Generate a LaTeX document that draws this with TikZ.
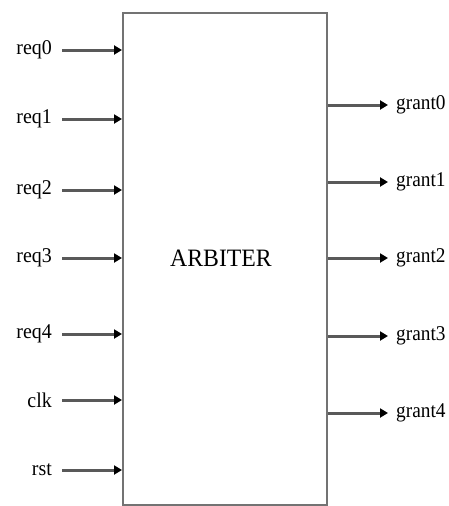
\documentclass[tikz,border=0pt]{standalone}
\usepackage{fontspec}
\setmainfont{Liberation Serif}
\usetikzlibrary{arrows.meta}
\begin{document}
\begin{tikzpicture}[x=1pt,y=-1pt,
  wire/.style={line width=3pt, draw=black!65, -{Triangle[length=8pt,width=9pt,color=black]}},
  inlabel/.style={anchor=east, inner sep=0pt, font=\fontsize{21}{21}\selectfont, xscale=0.95},
  outlabel/.style={anchor=west, inner sep=0pt, font=\fontsize{21}{21}\selectfont, xscale=0.92},
  block/.style={draw=black!55, line width=2.2pt, fill=white}]
  \useasboundingbox (0,0) rectangle (448,506);
  % arbiter block
  \node[block, minimum width=204pt, minimum height=492pt, anchor=north west] (arb) at (122,12) {};
  \node[font=\fontsize{25}{25}\selectfont, xscale=0.95] (title) at (221,258) {ARBITER};
  % inputs
  \foreach \name/\txt/\yy in {r0/req0/50, r1/req1/119, r2/req2/190, r3/req3/258, r4/req4/334, ck/clk/400, rs/rst/470}{
    \node[inlabel] (\name) at (52,\yy) {\txt};
    \coordinate (\name s) at (62,\yy);
    \coordinate (\name e) at (arb.west |- \name s);
    \draw[wire] (\name s) -- (\name e);
  }
  % outputs
  \foreach \name/\txt/\yy in {g0/grant0/105, g1/grant1/182, g2/grant2/258, g3/grant3/336, g4/grant4/413}{
    \node[outlabel] (\name) at (396,\yy) {\txt};
    \coordinate (\name e) at (388,\yy);
    \coordinate (\name s) at (arb.east |- \name e);
    \draw[wire] (\name s) -- (\name e);
  }
\end{tikzpicture}
\end{document}
